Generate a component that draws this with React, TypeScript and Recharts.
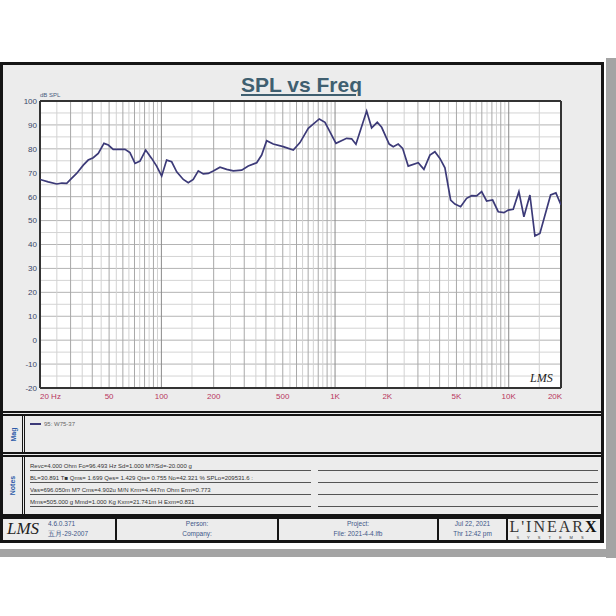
import React from 'react'
import { LineChart, Line, XAxis, YAxis, CartesianGrid, ReferenceLine } from 'recharts'

// frequency (Hz) and SPL (dB)
const freqs = [
  20, 22.3, 25, 26.7, 28.5, 29.8, 32.5, 35.5, 37.9, 40.5, 43.3, 46.7, 49.5, 52.8, 57.8, 61.7,
  65.9, 70.5, 75.3, 81.2, 87.9, 93.9, 100.4, 107.2, 114.6, 122.5, 133.7, 142.8, 152.6, 163.1,
  174.2, 186.2, 198.9, 217.5, 237.6, 259.4, 290, 316.4, 353.8, 377.9, 403.8, 440.7, 503, 574.6,
  628, 701, 811, 875, 1012, 1166, 1246, 1319, 1520, 1624, 1750, 1855, 2050, 2163, 2310, 2450,
  2638, 3012, 3248, 3518, 3758, 4016, 4292, 4628, 4900, 5284, 5722, 6114, 6534, 6982, 7460,
  8078, 8702, 9384, 9936, 10614, 11446, 12230, 13244, 14148, 15116, 17424, 18692, 20000,
]
const spl = [
  67.2, 66.2, 65.3, 65.7, 65.6, 67, 69.7, 73.2, 75.3, 76.3, 78.1, 82.3, 81.6, 79.8, 79.8, 79.8,
  78.4, 73.9, 74.9, 79.5, 76, 72.8, 68.6, 75.3, 74.6, 70.4, 67.2, 65.8, 67.2, 70.8,
  69.5, 69.7, 70.7, 72.3, 71.4, 70.8, 71.1, 72.8, 74.2, 77.4, 83.4, 82, 80.9, 79.5,
  82.6, 88.6, 92.5, 91.1, 82.3, 84.4, 84.2, 81.9, 95.8, 88.8, 91.1, 89, 82, 80.9, 82, 80.2,
  72.8, 74.2, 71.4, 77.4, 78.8, 76, 72.1, 58.6, 56.9, 55.8, 59.3, 60.4, 60.3, 62.1, 58.2,
  58.6, 53.7, 53.3, 54.4, 54.7, 62.1, 51.6, 60.7, 43.6, 44.6, 60.7, 61.6, 56.5,
]

const xTicks = [20, 50, 100, 200, 500, 1000, 2000, 5000, 10000, 20000]
const xTickLabels = ['20 Hz', '50', '100', '200', '500', '1K', '2K', '5K', '10K', '20K']
const yTicks = [-20, -10, 0, 10, 20, 30, 40, 50, 60, 70, 80, 90, 100]

const decadeMults = [1, 2, 3, 4, 5, 6, 7, 8, 9]
const halfMults = [1.5, 2.5, 3.5, 4.5, 5.5, 6.5, 7.5, 8.5, 9.5]
const decades = [10, 100, 1000, 10000]
const majorGrid = decades.flatMap(d => decadeMults.map(m => m * d)).filter(f => f > 20 && f < 20000)
const minorGrid = decades.flatMap(d => halfMults.map(m => m * d)).filter(f => f > 20 && f < 20000)
const minorDb = [-15, -5, 5, 15, 25, 35, 45, 55, 65, 75, 85, 95]

const legendName = '95: W75-37'
const notes = [
  'Revc=4.000 Ohm  Fo=96.493 Hz  Sd=1.000 M?/Sd=-20.000 g',
  'BL=30.891 T\u25A0  Qms= 1.699  Qes= 1.429  Qts= 0.755  No=42.321 %  SPLo=209531.6 :',
  'Vas=696.050m M?  Cms=4.902u M/N  Krm=4.447m Ohm  Erm=0.773',
  'Mms=505.000 g  Mmd=1.000 Kg  Kxm=21.741m H  Exm=0.831',
]

const data = freqs.map((f, i) => ({ f, spl: spl[i] }))
const font = '"Liberation Sans", Arial, sans-serif'
const blue = '#3e5688'

function FreqTick({ x, y, payload }: any) {
  const i = xTicks.indexOf(payload.value)
  return (
    <text x={x} y={y} dy={6} textAnchor={i === 0 ? 'start' : 'middle'} fontSize={8} fill="#b8365e" fontFamily={font}>
      {xTickLabels[i]}
    </text>
  )
}

const abs = (l: number, t: number, w: number, h: number): React.CSSProperties => ({
  position: 'absolute', left: l, top: t, width: w, height: h, boxSizing: 'border-box',
})

function SideLabel({ text, top, height }: { text: string; top: number; height: number }) {
  return (
    <div style={{ ...abs(2, top, 21, height), display: 'flex', alignItems: 'center', justifyContent: 'center' }}>
      <div style={{ transform: 'rotate(-90deg)', fontSize: 7, fontWeight: 'bold', color: '#2c5aa8', fontFamily: font }}>{text}</div>
    </div>
  )
}

export default function App() {
  return (
    <div style={{ ...abs(0, 0, 616, 616), background: '#fff', fontFamily: font, overflow: 'hidden' }}>
      {/* paper shadow */}
      <div style={{ ...abs(606, 58, 10, 500), background: '#a4a4a4' }} />
      <div style={{ ...abs(0, 549, 616, 8), background: '#a4a4a4' }} />
      {/* frame */}
      <div style={{ ...abs(0, 62, 604, 481), background: '#ececec', border: '3px solid #151515' }} />

      <div style={{ ...abs(0, 70, 603, 30), textAlign: 'center', fontSize: 21, fontWeight: 'bold', color: '#3f5f70', textDecoration: 'underline', lineHeight: '30px' }}>
        SPL vs Freq
      </div>
      <div style={{ ...abs(40, 91, 40, 8), fontSize: 6, color: '#4a5a80', lineHeight: '8px' }}>dB SPL</div>

      <div style={abs(0, 90, 575, 320)}>
        <LineChart width={575} height={320} data={data} margin={{ top: 11, right: 14, bottom: 2, left: 6 }}>
          <CartesianGrid fill="#fff" horizontal={false} vertical={false} />
          <XAxis
            dataKey="f"
            type="number"
            scale="log"
            domain={[20, 20000]}
            allowDataOverflow
            ticks={xTicks}
            tick={<FreqTick />}
            tickLine={false}
            axisLine={false}
            tickSize={3}
            tickMargin={2}
            height={20}
          />
          <YAxis
            type="number"
            domain={[-20, 100]}
            ticks={yTicks}
            tick={{ fontSize: 8, fill: '#3a4668', fontFamily: font }}
            tickLine={false}
            axisLine={false}
            tickSize={3}
            tickMargin={0}
            width={34}
          />
          {minorDb.map(v => <ReferenceLine key={'hm' + v} y={v} stroke="#d4d4d4" strokeWidth={1} />)}
          {yTicks.map(v => <ReferenceLine key={'hM' + v} y={v} stroke="#b4b4b4" strokeWidth={1} />)}
          {minorGrid.map(f => <ReferenceLine key={'vm' + f} x={f} stroke="#d2d2d2" strokeWidth={1} />)}
          {majorGrid.map(f => (
            <ReferenceLine key={'vM' + f} x={f} stroke={[100, 1000, 10000].includes(f) ? '#8a8a8a' : '#a8a8a8'} strokeWidth={1} />
          ))}
          <ReferenceLine y={100} stroke="#333" strokeWidth={2} />
          <ReferenceLine y={-20} stroke="#333" strokeWidth={2} />
          <ReferenceLine x={20} stroke="#333" strokeWidth={2} />
          <ReferenceLine x={20000} stroke="#333" strokeWidth={2} />
          <Line type="linear" dataKey="spl" stroke="#3c3a78" strokeWidth={1.7} dot={false} isAnimationActive={false} />
        </LineChart>
      </div>
      <div style={{ ...abs(530, 370, 30, 16), fontSize: 12, fontStyle: 'italic', fontFamily: '"Liberation Serif", serif', color: '#222', lineHeight: '16px' }}>LMS</div>

      {/* chart panel bottom */}
      <div style={{ ...abs(0, 411, 603, 2), background: '#151515' }} />

      {/* Mag panel */}
      <div style={{ ...abs(0, 414, 603, 40), border: '2px solid #151515' }} />
      <div style={{ ...abs(22, 414, 4, 40), borderLeft: '3px double #151515' }} />
      <SideLabel text="Mag" top={416} height={36} />
      <div style={{ ...abs(30, 419, 200, 10), display: 'flex', alignItems: 'center', fontSize: 6, color: '#666' }}>
        <span style={{ display: 'inline-block', width: 11, height: 2, background: '#3c3a78', marginRight: 3 }} />
        {legendName}
      </div>

      {/* Notes panel */}
      <div style={{ ...abs(0, 455, 603, 61), border: '2px solid #151515' }} />
      <div style={{ ...abs(22, 455, 4, 61), borderLeft: '3px double #151515' }} />
      <SideLabel text="Notes" top={457} height={57} />
      {notes.map((n, i) => (
        <div key={i} style={{ ...abs(30, 462 + i * 12, 568, 9), display: 'flex', gap: 7 }}>
          <div style={{ flex: 1, borderBottom: '1px solid #555', fontSize: 6, color: '#333', lineHeight: '8px', whiteSpace: 'nowrap' }}>{n}</div>
          <div style={{ flex: 1, borderBottom: '1px solid #555' }} />
        </div>
      ))}

      {/* footer */}
      <div style={{ ...abs(0, 516, 603, 27), border: '3px solid #151515' }} />
      {[115, 277, 437, 506].map(x => <div key={x} style={{ ...abs(x, 516, 2, 27), background: '#151515' }} />)}
      <div style={{ ...abs(7, 518, 38, 22), fontSize: 17, fontStyle: 'italic', fontFamily: '"Liberation Serif", serif', color: '#222', lineHeight: '22px' }}>LMS</div>
      <div style={{ ...abs(48, 519, 66, 20), fontSize: 6.5, color: blue, lineHeight: '10px' }}>
        <div>4.6.0.371</div>
        <div>五月-29-2007</div>
      </div>
      {[
        { l: 117, w: 160, a: 'Person:', b: 'Company:' },
        { l: 279, w: 158, a: 'Project:', b: 'File: 2021-4-4.lfb' },
        { l: 439, w: 67, a: 'Jul 22, 2021', b: 'Thr 12:42 pm' },
      ].map(c => (
        <div key={c.a} style={{ ...abs(c.l, 519, c.w, 20), fontSize: 6.5, color: blue, lineHeight: '10px', textAlign: 'center' }}>
          <div>{c.a}</div>
          <div>{c.b}</div>
        </div>
      ))}
      <div style={{ ...abs(508, 518, 92, 24), textAlign: 'center', fontFamily: '"Liberation Serif", serif', color: '#333' }}>
        <div style={{ fontSize: 16, lineHeight: '17px', letterSpacing: 2 }}>L'INEAR<b style={{ color: '#111' }}>X</b></div>
        <div style={{ fontSize: 4, lineHeight: '5px', letterSpacing: 8, fontFamily: font }}>SYSTEMS</div>
      </div>
    </div>
  )
}
